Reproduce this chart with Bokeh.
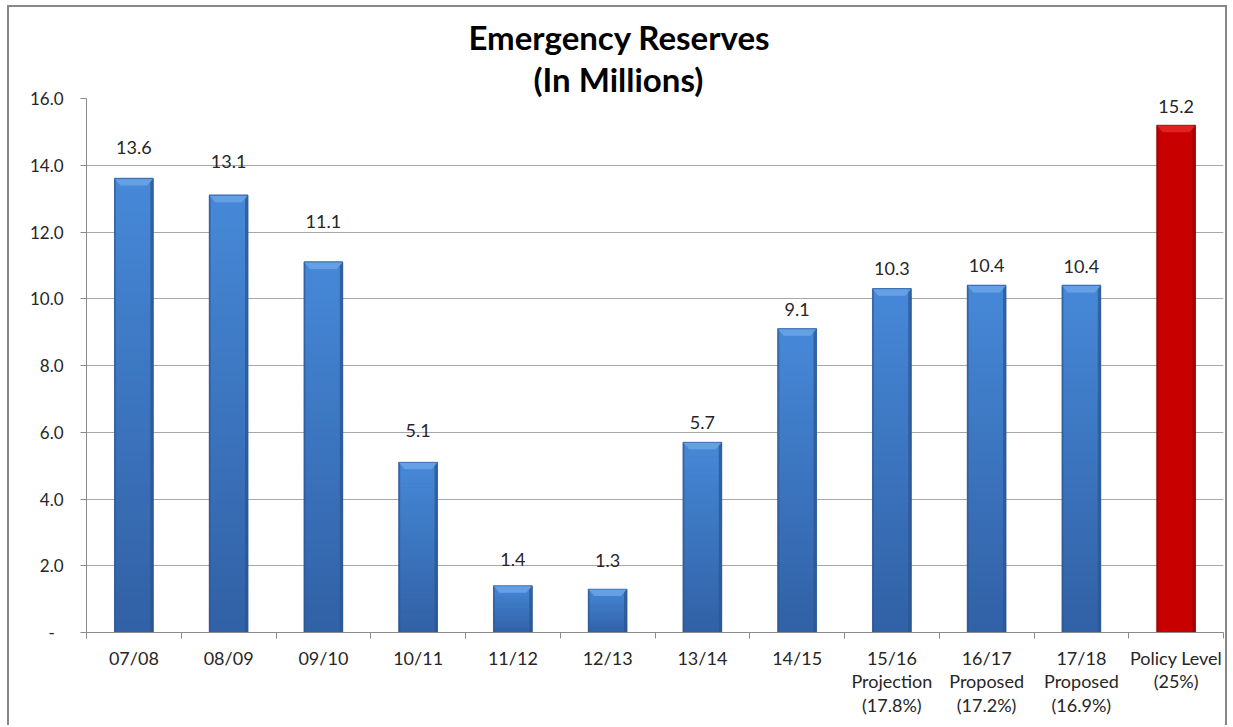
from bokeh.plotting import figure
from bokeh.models import ColumnDataSource, FixedTicker, NumeralTickFormatter, Range1d, Title
from bokeh.core.properties import value
from bokeh.embed import file_html
from bokeh.resources import INLINE

# ---- data -------------------------------------------------------------
categories = [
    "07/08", "08/09", "09/10", "10/11", "11/12", "12/13", "13/14", "14/15",
    "15/16\nProjection\n(17.8%)", "16/17\nProposed\n(17.2%)",
    "17/18\nProposed\n(16.9%)", "Policy Level\n(25%)",
]
reserves = [13.6, 13.1, 11.1, 5.1, 1.4, 1.3, 5.7, 9.1, 10.3, 10.4, 10.4, 15.2]
y_ticks = [0, 2, 4, 6, 8, 10, 12, 14, 16]

# ---- styling ----------------------------------------------------------
FONT = "Lato"
TEXT = "#262626"
AXIS = "#8a8a8a"
GRID = "#a8a8a8"
BLUE_TOP, BLUE_BOTTOM = (70, 136, 216), (49, 97, 165)
BLUE_EDGE = "#2b5590"
RED, RED_EDGE, RED_CAP = "#c80000", "#8a0000", "#e42626"
BLUE_CAP = "#69a3e6"
label_lift_px = [25, 28, 35, 26, 20, 23, 14, 13, 14, 14, 13, 13]
label_pad_px = 6

W, H = 1220, 720
ML, MR, MT, MB = 77, 6, 91, 95
frame_w, frame_h = W - ML - MR, H - MT - MB
n = len(categories)
ymax = y_ticks[-1]
px_x = frame_w / n          # pixels per category
px_y = frame_h / ymax       # pixels per unit

centers = [i + 0.5 for i in range(n)]
bar_w = 0.41
is_policy = [c.startswith("Policy") for c in categories]

p = figure(
    width=W, height=H, output_backend="svg", toolbar_location=None,
    x_range=Range1d(0, n), y_range=Range1d(0, ymax),
    min_border_left=ML, min_border_right=MR, min_border_top=MT, min_border_bottom=MB,
    background_fill_color="white", border_fill_color="white",
)
p.styles = {
    "margin-left": "7px", "margin-top": "5px",
    "border-left": "2px solid #878787", "border-top": "2px solid #878787",
    "border-right": "2px solid #878787",
}
p.outline_line_color = None

# gridlines
p.xgrid.grid_line_color = None
p.ygrid.ticker = FixedTicker(ticks=y_ticks)
p.ygrid.grid_line_color = GRID
p.ygrid.grid_line_width = 1

# y axis
ya = p.yaxis[0]
ya.ticker = FixedTicker(ticks=y_ticks)
ya.formatter = NumeralTickFormatter(format="0.0")
ya.major_label_overrides = {0: "-\u00a0\u00a0"}
ya.axis_line_color = AXIS
ya.major_tick_line_color = AXIS
ya.major_tick_out = 6
ya.major_tick_in = 0
ya.minor_tick_line_color = None
ya.major_label_standoff = 17
ya.major_label_text_font = FONT
ya.major_label_text_font_size = "17px"
ya.major_label_text_color = TEXT

# x axis: labels at bar centres, tick marks between categories
xa = p.xaxis[0]
xa.ticker = FixedTicker(ticks=centers, minor_ticks=list(range(n + 1)))
xa.major_label_overrides = {c: lab for c, lab in zip(centers, categories)}
xa.axis_line_color = AXIS
xa.major_tick_line_color = None
xa.major_tick_out = 0
xa.major_tick_in = 0
xa.minor_tick_line_color = AXIS
xa.minor_tick_out = 6
xa.minor_tick_in = 0
xa.major_label_standoff = 8
xa.major_label_text_font = FONT
xa.major_label_text_font_size = "18px"
xa.major_label_text_line_height = 1.07
xa.major_label_text_color = TEXT

# ---- bars -------------------------------------------------------------
def lerp(a, b, t):
    return "#%02x%02x%02x" % tuple(round(a[j] + (b[j] - a[j]) * t) for j in range(3))

mid_blue = lerp(BLUE_BOTTOM, BLUE_TOP, 0.5)
base_colors = [RED if pol else mid_blue for pol in is_policy]
p.vbar(x=centers, top=reserves, width=bar_w, bottom=0,
       fill_color=base_colors, line_color=None)

# vertical shading of the blue bars, bottom (dark) to top (light)
steps = 40
gl, gr, gb, gt, gc = [], [], [], [], []
for c, v, pol in zip(centers, reserves, is_policy):
    if pol:
        continue
    for k in range(steps):
        gl.append(c - bar_w / 2)
        gr.append(c + bar_w / 2)
        gb.append(v * k / steps)
        gt.append(v * (k + 1) / steps + v * 0.002)
        gc.append(lerp(BLUE_BOTTOM, BLUE_TOP, (k + 0.5) / steps))
p.quad(left=gl, right=gr, bottom=gb, top=gt, fill_color=gc, line_color=None)

# darker side edges
edge_colors = [RED_EDGE if pol else BLUE_EDGE for pol in is_policy]
ew_r = 3 / px_x
ew_l = 1.5 / px_x
p.quad(left=[c + bar_w / 2 - ew_r for c in centers], right=[c + bar_w / 2 for c in centers],
       bottom=0, top=reserves, fill_color=edge_colors, line_color=None, fill_alpha=0.75)
p.quad(left=[c - bar_w / 2 for c in centers], right=[c - bar_w / 2 + ew_l for c in centers],
       bottom=0, top=reserves, fill_color=edge_colors, line_color=None, fill_alpha=0.55)

# bevelled top cap
cap_h = 7 / px_y
cap_d = 6 / px_x
cap_xs, cap_ys = [], []
for c, v in zip(centers, reserves):
    x0, x1 = c - bar_w / 2, c + bar_w / 2
    cap_xs.append([x0, x1, x1 - cap_d, x0 + cap_d])
    cap_ys.append([v, v, v - cap_h, v - cap_h])
cap_colors = [RED_CAP if pol else BLUE_CAP for pol in is_policy]
p.patches(xs=cap_xs, ys=cap_ys, fill_color=cap_colors, line_color=None, fill_alpha=0.9)

# thin outline
p.vbar(x=centers, top=reserves, width=bar_w, bottom=0, fill_color=None,
       line_color=edge_colors, line_width=1, line_alpha=0.6)

# ---- value labels -----------------------------------------------------
src = ColumnDataSource(dict(
    x=centers, y=reserves,
    txt=[f"{v:.1f}" for v in reserves],
    off=[-(d + label_pad_px) for d in label_lift_px],
))
p.text(x="x", y="y", text="txt", y_offset="off", source=src,
       text_align="center", text_baseline="alphabetic",
       text_font=value(FONT), text_font_size="18px", text_color=TEXT)

# ---- two-line title, centred on the whole chart -----------------------
# (lower line first: the first title added sits next to the plot frame)
for line, left_px, lh in (("(In Millions)", 447, 0.7), ("Emergency Reserves", 382, 1.0)):
    p.add_layout(Title(
        text=line, align="left", offset=left_px, standoff=0,
        text_font=FONT, text_font_style="bold", text_font_size="33px",
        text_line_height=lh, text_color="black",
    ), "above")

open("out.html", "w").write(file_html(p, INLINE))
